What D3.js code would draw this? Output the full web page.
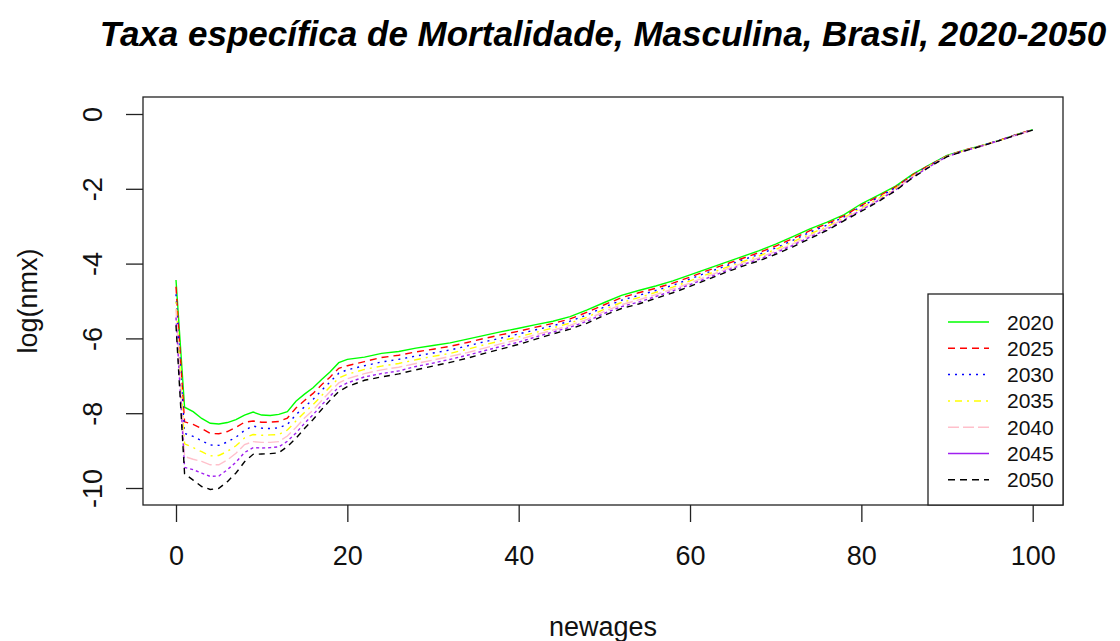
<!DOCTYPE html>
<html>
<head>
<meta charset="utf-8">
<script src="https://cdn.jsdelivr.net/npm/d3@7"></script>
<style>
  body { margin: 0; background: #fff; }
  svg { font-family: "Liberation Sans", Arial, sans-serif; }
</style>
</head>
<body>
<svg width="1120" height="641"></svg>
<script>

// ages (newages) used for every series
var ages = [0,1,2,3,4,5,6,7,8,9,10,11,12,13,14,15,16,17,18,19,20,
	22,24,26,28,30,32,34,36,38,40,42,44,46,48,50,52,54,56,58,60,
	62,64,66,68,70,72,74,76,78,80,82,84,86,88,90,92,94,96,98,100];

var y2020 = [-4.44,-7.84,-7.96,-8.14,-8.27,-8.29,-8.25,-8.17,-8.05,-7.97,-8.05,-8.06,-8.03,-7.96,-7.68,-7.49,-7.32,-7.10,-6.89,-6.65,-6.56,
	-6.50,-6.40,-6.35,-6.26,-6.19,-6.12,-6.02,-5.92,-5.82,-5.73,-5.63,-5.54,-5.42,-5.24,-5.04,-4.85,-4.72,-4.60,-4.46,-4.30,
	-4.14,-3.98,-3.82,-3.66,-3.48,-3.28,-3.07,-2.89,-2.69,-2.40,-2.17,-1.93,-1.61,-1.35,-1.11,-0.97,-0.85,-0.71,-0.56,-0.42];

var y2025 = [-4.62,-8.23,-8.30,-8.41,-8.54,-8.55,-8.49,-8.38,-8.24,-8.21,-8.24,-8.24,-8.22,-8.13,-7.86,-7.66,-7.47,-7.24,-7.03,-6.80,-6.73,
	-6.62,-6.51,-6.45,-6.36,-6.29,-6.21,-6.11,-6.00,-5.90,-5.81,-5.70,-5.60,-5.48,-5.30,-5.10,-4.91,-4.78,-4.66,-4.52,-4.36,
	-4.19,-4.03,-3.87,-3.71,-3.53,-3.33,-3.12,-2.93,-2.72,-2.44,-2.20,-1.95,-1.63,-1.36,-1.12,-0.97,-0.85,-0.71,-0.56,-0.42];

var y2030 = [-4.82,-8.54,-8.62,-8.74,-8.85,-8.86,-8.77,-8.64,-8.46,-8.34,-8.40,-8.41,-8.39,-8.30,-8.04,-7.83,-7.63,-7.39,-7.16,-6.93,-6.84,
	-6.73,-6.63,-6.56,-6.47,-6.39,-6.31,-6.20,-6.09,-5.99,-5.88,-5.77,-5.66,-5.54,-5.37,-5.16,-4.98,-4.85,-4.72,-4.58,-4.41,
	-4.24,-4.08,-3.91,-3.76,-3.58,-3.38,-3.16,-2.97,-2.75,-2.47,-2.23,-1.97,-1.64,-1.37,-1.12,-0.98,-0.85,-0.71,-0.56,-0.42];

var y2035 = [-5.02,-8.82,-8.92,-9.03,-9.14,-9.13,-9.02,-8.87,-8.66,-8.57,-8.59,-8.58,-8.57,-8.45,-8.21,-7.98,-7.77,-7.53,-7.29,-7.06,-6.96,
	-6.83,-6.74,-6.67,-6.57,-6.48,-6.40,-6.29,-6.17,-6.06,-5.96,-5.84,-5.72,-5.59,-5.43,-5.22,-5.04,-4.91,-4.77,-4.63,-4.46,
	-4.29,-4.12,-3.96,-3.80,-3.62,-3.42,-3.21,-3.01,-2.77,-2.51,-2.26,-1.99,-1.66,-1.38,-1.13,-0.98,-0.86,-0.72,-0.57,-0.43];

var y2040 = [-5.22,-9.16,-9.23,-9.29,-9.38,-9.38,-9.25,-9.07,-8.84,-8.76,-8.78,-8.78,-8.76,-8.61,-8.38,-8.13,-7.92,-7.66,-7.42,-7.19,-7.08,
	-6.94,-6.84,-6.77,-6.67,-6.58,-6.48,-6.38,-6.26,-6.14,-6.03,-5.90,-5.78,-5.65,-5.49,-5.28,-5.10,-4.97,-4.83,-4.68,-4.52,
	-4.34,-4.17,-4.00,-3.85,-3.67,-3.47,-3.25,-3.04,-2.80,-2.54,-2.29,-2.01,-1.67,-1.39,-1.13,-0.98,-0.86,-0.72,-0.57,-0.43];

var y2045 = [-5.44,-9.45,-9.51,-9.60,-9.69,-9.68,-9.51,-9.31,-9.05,-8.92,-8.93,-8.92,-8.90,-8.75,-8.53,-8.27,-8.04,-7.78,-7.54,-7.30,-7.19,
	-7.03,-6.94,-6.87,-6.75,-6.66,-6.56,-6.45,-6.33,-6.21,-6.10,-5.96,-5.83,-5.70,-5.54,-5.33,-5.15,-5.03,-4.88,-4.73,-4.56,
	-4.39,-4.21,-4.04,-3.89,-3.71,-3.51,-3.29,-3.08,-2.83,-2.57,-2.31,-2.03,-1.69,-1.40,-1.14,-0.99,-0.86,-0.72,-0.57,-0.43];

var y2050 = [-5.65,-9.62,-9.79,-9.96,-10.04,-10.01,-9.83,-9.60,-9.30,-9.10,-9.09,-9.08,-9.06,-8.89,-8.67,-8.41,-8.17,-7.90,-7.65,-7.42,-7.29,
	-7.12,-7.03,-6.95,-6.84,-6.74,-6.64,-6.53,-6.40,-6.28,-6.16,-6.02,-5.88,-5.75,-5.59,-5.38,-5.20,-5.08,-4.93,-4.78,-4.61,
	-4.43,-4.25,-4.08,-3.93,-3.75,-3.55,-3.33,-3.11,-2.85,-2.60,-2.34,-2.05,-1.70,-1.41,-1.14,-0.99,-0.86,-0.72,-0.57,-0.43];

var years = ["2020","2025","2030","2035","2040","2045","2050"];
var seriesValues = [y2020, y2025, y2030, y2035, y2040, y2045, y2050];
var colors = ["#00ff00","#ff0000","#0000ff","#ffff00","#ffc0cb","#a020f0","#000000"];
// R matplot lty = 1:5, recycled
var dashes = [null, "7,5", "2,5", "2,5,7,5", "11,4", null, "7,5"];
// in the plot itself the purple curve shows up broken
var plotDashes = [null, "7,5", "2,5", "2,5,7,5", "11,4", "3,3", "6,5"];

var xTicks = [0, 20, 40, 60, 80, 100];
var yTicks = [0, -2, -4, -6, -8, -10];

var svg = d3.select("svg");

var plot = {left: 143, right: 1063, top: 97, bottom: 505};

var x = d3.scaleLinear()
	.domain([0, 100])
	.range([176, 1032.7]);

var y = d3.scaleLinear()
	.domain([-10, 0])
	.range([488, 114]);

var line = d3.line()
	.x(function(d, i) { return x(ages[i]); })
	.y(function(d) { return y(d); });

// series, first year drawn first
var g = svg.append("g").attr("class", "series");
seriesValues.forEach(function(vals, k) {
	g.append("path")
		.datum(vals)
		.attr("d", line)
		.attr("fill", "none")
		.attr("stroke", colors[k])
		.attr("stroke-width", 1.4)
		.attr("stroke-dasharray", plotDashes[k]);
});

// box
svg.append("rect")
	.attr("x", plot.left)
	.attr("y", plot.top)
	.attr("width", plot.right - plot.left)
	.attr("height", plot.bottom - plot.top)
	.attr("fill", "none")
	.attr("stroke", "#222")
	.attr("stroke-width", 1.3);

// x axis
var xAxis = svg.append("g")
	.attr("class", "axis axis--x")
	.attr("transform", "translate(0," + plot.bottom + ")")
	.call(d3.axisBottom(x).tickValues(xTicks).tickSize(17).tickPadding(24).tickFormat(d3.format("d")));

// y axis
var yAxis = svg.append("g")
	.attr("class", "axis axis--y")
	.attr("transform", "translate(" + plot.left + ",0)")
	.call(d3.axisLeft(y).tickValues(yTicks).tickSize(17).tickFormat(function(d) { return d < 0 ? "-" + Math.abs(d) : d; }));

svg.selectAll(".axis path.domain").remove();
svg.selectAll(".axis line").attr("stroke", "#222").attr("stroke-width", 1.3);
svg.selectAll(".axis text")
	.attr("fill", "#111")
	.style("font-size", "27px")
	.style("font-family", "'Liberation Sans', Arial, sans-serif");

yAxis.selectAll(".tick text")
	.attr("x", null)
	.attr("dy", null)
	.attr("text-anchor", "middle")
	.attr("transform", "translate(-41,0) rotate(-90)");

xAxis.selectAll(".tick text").attr("dy", "0.71em");

// axis titles
svg.append("text")
	.attr("x", 603)
	.attr("y", 636)
	.attr("text-anchor", "middle")
	.style("font-size", "27px")
	.attr("fill", "#111")
	.text("newages");

svg.append("text")
	.attr("transform", "translate(37,301) rotate(-90)")
	.attr("text-anchor", "middle")
	.style("font-size", "27px")
	.attr("fill", "#111")
	.text("log(nmx)");

// title
svg.append("text")
	.attr("x", 603)
	.attr("y", 46)
	.attr("text-anchor", "middle")
	.style("font-size", "35px")
	.style("font-weight", "bold")
	.style("font-style", "italic")
	.attr("fill", "#000")
	.text("Taxa específica de Mortalidade, Masculina, Brasil, 2020-2050");

// legend, bottom right
var legend = svg.append("g").attr("class", "legend");
legend.append("rect")
	.attr("x", 928)
	.attr("y", 294)
	.attr("width", plot.right - 928)
	.attr("height", plot.bottom - 294)
	.attr("fill", "#fff")
	.attr("stroke", "#222")
	.attr("stroke-width", 1.3);

years.forEach(function(yr, k) {
	var yy = 322 + k * 26.3;
	legend.append("line")
		.attr("x1", 948).attr("x2", 989)
		.attr("y1", yy).attr("y2", yy)
		.attr("stroke", colors[k])
		.attr("stroke-width", 1.5)
		.attr("stroke-dasharray", dashes[k]);
	legend.append("text")
		.attr("x", 1007)
		.attr("y", yy)
		.attr("dy", "0.36em")
		.style("font-size", "21px")
		.attr("fill", "#111")
		.text(yr);
});

</script>
</body>
</html>
